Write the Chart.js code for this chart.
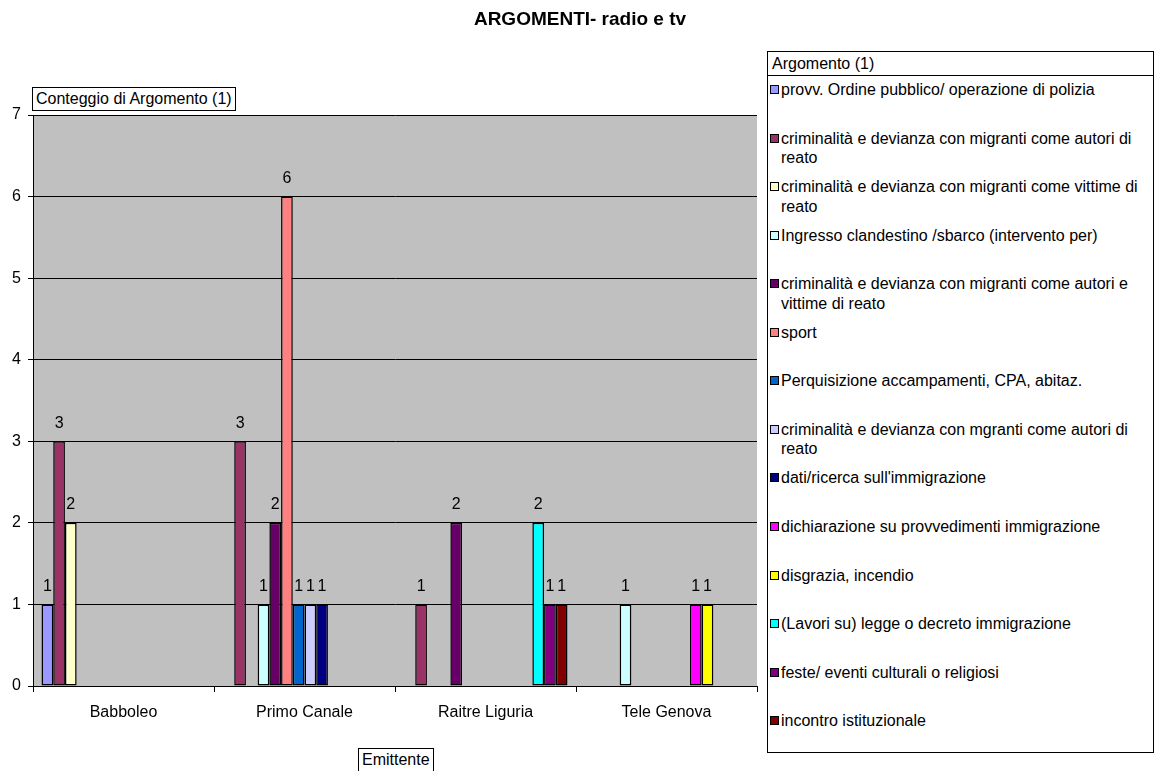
<!DOCTYPE html>
<html>
<head>
<meta charset="utf-8">
<title>ARGOMENTI- radio e tv</title>
<script src="https://cdn.jsdelivr.net/npm/chart.js@4.4.0/dist/chart.umd.min.js"></script>
<style>
  body { margin: 0; background: #fff; overflow: hidden; font-family: "Liberation Sans", Arial, sans-serif; color: #000; }
  #wrap { position: relative; width: 1157px; height: 771px; }
  #chart { position: absolute; left: 0; top: 0; }
  .title { position: absolute; left: 0; width: 1160px; top: 8px; text-align: center; font-weight: bold; font-size: 19px; }
  .boxed { position: absolute; border: 1px solid #000; background: #fff; font-size: 16px; line-height: 22px; padding: 0 3px; white-space: nowrap; }
  #legend { position: absolute; left: 767px; top: 51px; width: 385px; height: 700px; border: 1px solid #000; background: #fff; }
  #legend .head { position: absolute; left: 4px; top: 2px; font-size: 16px; line-height: 20px; }
  #legend .sep { position: absolute; left: 0; right: 0; top: 23px; border-top: 1px solid #000; }
  .item { position: absolute; left: 2px; width: 375px; font-size: 16px; line-height: 19.5px; }
  .item .sw { position: absolute; left: 0; top: 5px; width: 7px; height: 7px; border: 1px solid #000; }
  .item .tx { position: absolute; left: 11px; width: 362px; }
</style>
</head>
<body>
<div id="wrap">
  <canvas id="chart" width="1157" height="771"></canvas>
  <div class="title">ARGOMENTI- radio e tv</div>
  <div class="boxed" style="left:32px; top:87px;">Conteggio di Argomento (1)</div>
  <div class="boxed" style="left:358px; top:748px;">Emittente</div>
  <div id="legend">
    <div class="head">Argomento (1)</div>
    <div class="sep"></div>
  </div>
</div>
<script>
// Emittenti (categories)
const emittenti = ['Babboleo', 'Primo Canale', 'Raitre Liguria', 'Tele Genova'];

// Argomenti (series names)
const argomenti = [
    'provv. Ordine pubblico/ operazione di polizia',
    'criminalità e devianza con migranti come autori di reato',
    'criminalità e devianza con migranti come vittime di reato',
    'Ingresso clandestino /sbarco (intervento per)',
    'criminalità e devianza con migranti come autori e vittime di reato',
    'sport',
    'Perquisizione accampamenti, CPA, abitaz.',
    'criminalità e devianza con mgranti come autori di reato',
    "dati/ricerca sull'immigrazione",
    'dichiarazione su provvedimenti immigrazione',
    'disgrazia, incendio',
    '(Lavori su) legge o decreto immigrazione',
    'feste/ eventi culturali o religiosi',
    'incontro istituzionale'
];

// Counts per argomento, one value per emittente (null = no bar)
const ordinePubblico    = [1, null, null, null];
const autoriReato       = [3, 3, 1, null];
const vittimeReato      = [2, null, null, null];
const ingresso          = [null, 1, null, 1];
const autoriVittime     = [null, 2, 2, null];
const sport             = [null, 6, null, null];
const perquisizione     = [null, 1, null, null];
const autoriReatoBis    = [null, 1, null, null];
const datiRicerca       = [null, 1, null, null];
const dichiarazione     = [null, null, null, 1];
const disgrazia         = [null, null, null, 1];
const leggeDecreto      = [null, null, 2, null];
const feste             = [null, null, 1, null];
const incontro          = [null, null, 1, null];

const serie = [ordinePubblico, autoriReato, vittimeReato, ingresso, autoriVittime, sport,
    perquisizione, autoriReatoBis, datiRicerca, dichiarazione, disgrazia, leggeDecreto, feste, incontro];

const colori = ['#9999FF', '#993366', '#FFFFCC', '#CCFFFF', '#660066', '#FF8080', '#0066CC',
    '#CCCCFF', '#000080', '#FF00FF', '#FFFF00', '#00FFFF', '#800080', '#800000'];

// Y axis ticks
const yMin = 0;
const yMax = 7;
const yStep = 1;

const FONT = '"Liberation Sans", Arial, sans-serif';

// Grey plot area
const plotBackground = {
    id: 'plotBackground',
    beforeDraw(chart) {
        const { ctx, chartArea: a } = chart;
        ctx.save();
        ctx.fillStyle = '#C0C0C0';
        ctx.fillRect(a.left, a.top, a.right - a.left, a.bottom - a.top);
        ctx.restore();
    }
};

// Value above each bar
const valueLabels = {
    id: 'valueLabels',
    afterDatasetsDraw(chart) {
        const ctx = chart.ctx;
        ctx.save();
        ctx.font = '16px ' + FONT;
        ctx.fillStyle = '#000';
        ctx.textAlign = 'center';
        ctx.textBaseline = 'middle';
        chart.data.datasets.forEach((ds, i) => {
            chart.getDatasetMeta(i).data.forEach((bar, j) => {
                const v = ds.data[j];
                if (v == null) return;
                ctx.fillText(String(v), bar.x, bar.y - 18);
            });
        });
        ctx.restore();
    }
};

// Build legend from the arrays
const legend = document.getElementById('legend');
argomenti.forEach((name, i) => {
    const item = document.createElement('div');
    item.className = 'item';
    item.style.top = (89 + 48.55 * i - 51 - 10) + 'px';
    const sw = document.createElement('div');
    sw.className = 'sw';
    sw.style.background = colori[i];
    const tx = document.createElement('div');
    tx.className = 'tx';
    tx.textContent = name;
    item.appendChild(sw);
    item.appendChild(tx);
    legend.appendChild(item);
});

new Chart(document.getElementById('chart').getContext('2d'), {
    type: 'bar',
    data: {
        labels: emittenti,
        datasets: serie.map((values, i) => ({
            label: argomenti[i],
            data: values,
            backgroundColor: colori[i],
            borderColor: '#000',
            borderWidth: 1.5,
            borderSkipped: false,
            categoryPercentage: 0.906,
            barPercentage: 1.0
        }))
    },
    options: {
        responsive: false,
        animation: false,
        layout: {
            padding: { left: 0, top: 115, right: 400, bottom: 0 }
        },
        plugins: {
            legend: { display: false },
            tooltip: { enabled: false }
        },
        scales: {
            x: {
                grid: {
                    drawOnChartArea: false,
                    drawTicks: true,
                    tickLength: 6,
                    color: '#000'
                },
                border: { color: '#000', width: 1 },
                ticks: {
                    color: '#000',
                    padding: 11,
                    font: { family: FONT, size: 16 }
                },
                afterFit(scale) { scale.height = 85; }
            },
            y: {
                min: yMin,
                max: yMax,
                grid: {
                    color: '#000',
                    lineWidth: 1,
                    tickLength: 5
                },
                border: { color: '#000', width: 1 },
                ticks: {
                    stepSize: yStep,
                    color: '#000',
                    padding: 7,
                    font: { family: FONT, size: 16 }
                },
                afterFit(scale) { scale.width = 33; }
            }
        }
    },
    plugins: [plotBackground, valueLabels]
});
</script>
</body>
</html>
